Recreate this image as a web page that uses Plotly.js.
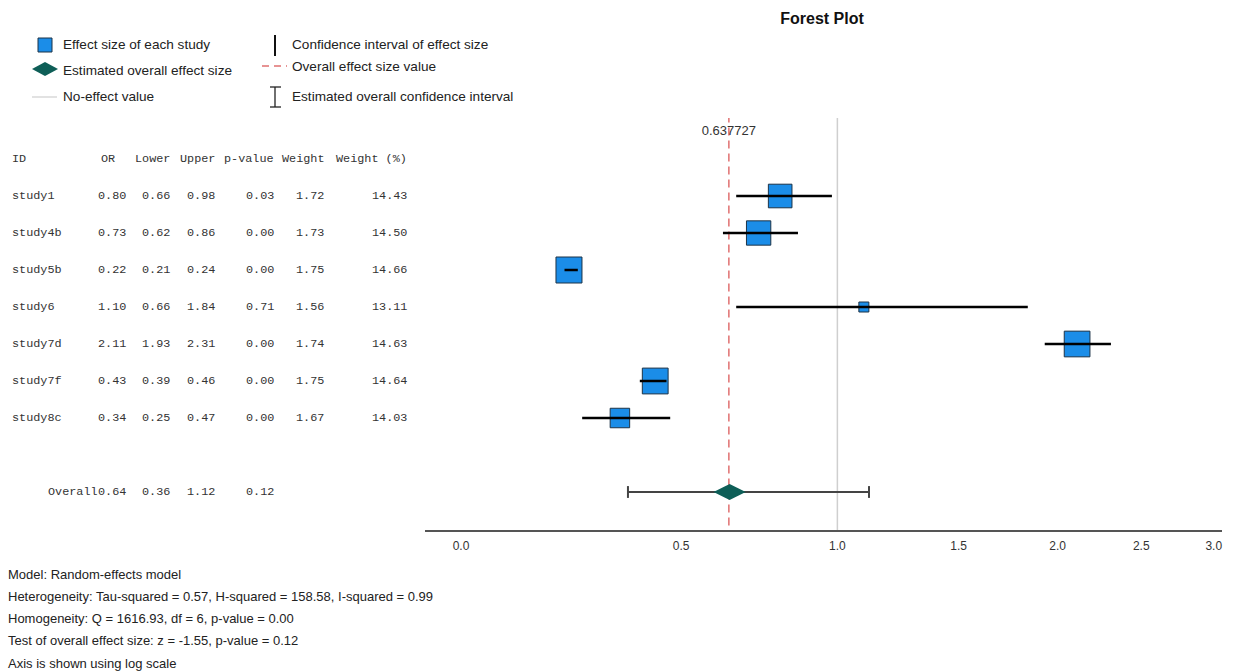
<!DOCTYPE html>
<html>
<head>
<meta charset="utf-8">
<script src="https://cdn.plot.ly/plotly-3.0.1.min.js"></script>
<style>html,body{margin:0;padding:0;background:#fff;}#chart{width:1235px;height:671px;}</style>
</head>
<body>
<div id="chart"></div>
<script>
// ---- data ----
const studies = ["study1","study4b","study5b","study6","study7d","study7f","study8c"];
const orVals   = [0.80, 0.73, 0.22, 1.10, 2.11, 0.43, 0.34];
const lowerVals= [0.66, 0.62, 0.21, 0.66, 1.93, 0.39, 0.25];
const upperVals= [0.98, 0.86, 0.24, 1.84, 2.31, 0.46, 0.47];
const pVals    = [0.03, 0.00, 0.00, 0.71, 0.00, 0.00, 0.00];
const weights  = [1.72, 1.73, 1.75, 1.56, 1.74, 1.75, 1.67];
const weightPct= [14.43, 14.50, 14.66, 13.11, 14.63, 14.64, 14.03];
const overallOR = 0.64, overallLower = 0.36, overallUpper = 1.12, overallP = 0.12;
const overallValue = 0.637727;
const noEffect = 1.0;
const tickValues = [0.0, 0.5, 1.0, 1.5, 2.0, 2.5, 3.0];
const tickLabels = ["0.0","0.5","1.0","1.5","2.0","2.5","3.0"];
const footerLines = [
  "Model: Random-effects model",
  "Heterogeneity: Tau-squared = 0.57, H-squared = 158.58, I-squared = 0.99",
  "Homogeneity: Q = 1616.93, df = 6, p-value = 0.00",
  "Test of overall effect size: z = -1.55, p-value = 0.12",
  "Axis is shown using log scale"
];

// axis: log scale of (1 + value), as in reference
const T = v => 1 + v;
const rows = studies.map((s,i)=>i+1);
const overallRow = 9;

// pixel layout helpers
const W = 1235, H = 671, ML = 425, MR = 13, MT = 118, MB = 141;
const PW = W-ML-MR, PH = H-MT-MB;
const px = x => (x-ML)/PW;
const py = y => (H-MB-y)/PH;

const minW = Math.min(...weightPct), maxW = Math.max(...weightPct);
const sizes = weightPct.map(w => 10 + (w-minW)/(maxW-minW)*16);

const traces = [];
// no-effect line
traces.push({x:[T(noEffect),T(noEffect)], y:[-1.2,10.1], mode:'lines',
  line:{color:'#cfcfcf', width:1.5}, hoverinfo:'skip', showlegend:false});
// overall effect dashed line
traces.push({x:[T(overallValue),T(overallValue)], y:[-1.2,10.1], mode:'lines',
  line:{color:'#e07070', width:1.5, dash:'8px,5px'}, hoverinfo:'skip', showlegend:false});
// study squares
traces.push({x:orVals.map(T), y:rows, mode:'markers',
  marker:{symbol:'square', size:sizes, opacity:1, color:'#1b8de8', line:{color:'#1d3347', width:1}},
  hoverinfo:'skip', showlegend:false});
// CI lines
const cx = [], cy = [];
studies.forEach((s,i)=>{ cx.push(T(lowerVals[i]), T(upperVals[i]), null); cy.push(rows[i], rows[i], null); });
traces.push({x:cx, y:cy, mode:'lines', line:{color:'#000', width:2.5}, hoverinfo:'skip', showlegend:false});
// overall CI with caps
traces.push({x:[T(overallLower),T(overallUpper)], y:[overallRow,overallRow], mode:'lines',
  line:{color:'#444', width:2}, hoverinfo:'skip', showlegend:false});
traces.push({x:[T(overallLower),T(overallLower),null,T(overallUpper),T(overallUpper)],
  y:[overallRow-0.16,overallRow+0.16,null,overallRow-0.16,overallRow+0.16], mode:'lines',
  line:{color:'#444', width:2}, hoverinfo:'skip', showlegend:false});
// overall diamond
traces.push({x:[T(overallOR)], y:[overallRow], mode:'markers',
  marker:{symbol:'diamond-wide', size:23, opacity:1, color:'#0e5e57', line:{width:0}},
  hoverinfo:'skip', showlegend:false});
// overall value label
traces.push({x:[T(overallValue)], y:[-0.74], mode:'text', text:[String(overallValue)],
  textfont:{family:'Liberation Sans', size:13, color:'#333'}, hoverinfo:'skip', showlegend:false});

const ann = [];
const mono = {family:'Liberation Mono', size:11.8, color:'#333'};
// header
const headers = [["ID",10,'left'],["OR",99,'left'],["Lower",172,'right'],["Upper",217,'right'],
  ["p-value",276,'right'],["Weight",326,'right'],["Weight (%)",409,'right']];
headers.forEach(h=>ann.push({xref:'paper', yref:'y', x:px(h[1]), y:0, text:h[0], showarrow:false,
  xanchor:h[2], yanchor:'middle', font:mono}));
const colRight = [128,172,217,276,326,409];
studies.forEach((s,i)=>{
  ann.push({xref:'paper', yref:'y', x:px(10), y:rows[i], text:s, showarrow:false, xanchor:'left', yanchor:'middle', font:mono});
  const vals = [orVals[i],lowerVals[i],upperVals[i],pVals[i],weights[i],weightPct[i]];
  vals.forEach((v,j)=>ann.push({xref:'paper', yref:'y', x:px(colRight[j]), y:rows[i], text:v.toFixed(2),
    showarrow:false, xanchor:'right', yanchor:'middle', font:mono}));
});
ann.push({xref:'paper', yref:'y', x:px(100), y:overallRow, text:'Overall', showarrow:false, xanchor:'right', yanchor:'middle', font:mono});
[overallOR, overallLower, overallUpper, overallP].forEach((v,j)=>ann.push({xref:'paper', yref:'y', x:px(colRight[j]), y:overallRow,
  text:v.toFixed(2), showarrow:false, xanchor:'right', yanchor:'middle', font:mono}));

// legend
const lf = {family:'Liberation Sans', size:13.6, color:'#222'};
const legendItems = [["Effect size of each study",61,45],["Estimated overall effect size",61,70],["No-effect value",61,97],
  ["Confidence interval of effect size",290,45],["Overall effect size value",290,66],["Estimated overall confidence interval",290,97]];
legendItems.forEach(l=>ann.push({xref:'paper', yref:'paper', x:px(l[1]), y:py(l[2]), text:l[0], showarrow:false,
  xanchor:'left', yanchor:'middle', font:lf}));
// footer
footerLines.forEach((t,i)=>ann.push({xref:'paper', yref:'paper', x:px(6), y:py(574+22.3*i), text:t, showarrow:false,
  xanchor:'left', yanchor:'middle', font:{family:'Liberation Sans', size:13, color:'#222'}}));

const shapes = [
  {type:'rect', xref:'paper', yref:'paper', x0:px(38), x1:px(52), y0:py(52), y1:py(38), fillcolor:'#1b8de8', line:{color:'#1d3347', width:1}},
  {type:'path', xref:'paper', yref:'paper', path:`M ${px(32)} ${py(69)} L ${px(45)} ${py(62)} L ${px(58)} ${py(69)} L ${px(45)} ${py(76)} Z`, fillcolor:'#0e5e57', line:{width:0}},
  {type:'line', xref:'paper', yref:'paper', x0:px(32), x1:px(57), y0:py(97), y1:py(97), line:{color:'#cfcfcf', width:1.2}},
  {type:'line', xref:'paper', yref:'paper', x0:px(275), x1:px(275), y0:py(35), y1:py(56), line:{color:'#111', width:2}},
  {type:'line', xref:'paper', yref:'paper', x0:px(262), x1:px(287), y0:py(66), y1:py(66), line:{color:'#e07070', width:1.5, dash:'7px,5px'}},
  {type:'line', xref:'paper', yref:'paper', x0:px(275), x1:px(275), y0:py(87), y1:py(107), line:{color:'#222', width:1.3}},
  {type:'line', xref:'paper', yref:'paper', x0:px(270), x1:px(281), y0:py(87), y1:py(87), line:{color:'#222', width:1.3}},
  {type:'line', xref:'paper', yref:'paper', x0:px(270), x1:px(281), y0:py(107), y1:py(107), line:{color:'#222', width:1.3}}
];

const ppl = 543*Math.LN10; // pixels per decade
const layout = {
  width:W, height:H, margin:{l:ML, r:MR, t:MT, b:MB, pad:0},
  paper_bgcolor:'#fff', plot_bgcolor:'#fff',
  title:{text:'<b>Forest Plot</b>', x:822/W, xanchor:'center', y:1-18/H, yanchor:'middle',
    font:{family:'Liberation Sans', size:16, color:'#111'}},
  xaxis:{type:'log', range:[(ML-461)/ppl, (W-MR-461)/ppl], tickvals:tickValues.map(T), ticktext:tickLabels,
    showgrid:false, zeroline:false, showline:true, linecolor:'#555', linewidth:1.5, ticks:'', ticklen:0,
    ticklabelstandoff:4,
    tickfont:{family:'Liberation Sans', size:12, color:'#333'}},
  yaxis:{range:[1+(H-MB-196)/37, 1+(MT-196)/37], visible:false, showgrid:false, zeroline:false},
  annotations:ann, shapes:shapes, showlegend:false
};
Plotly.newPlot('chart', traces, layout, {staticPlot:true, displayModeBar:false});
</script>
</body>
</html>
